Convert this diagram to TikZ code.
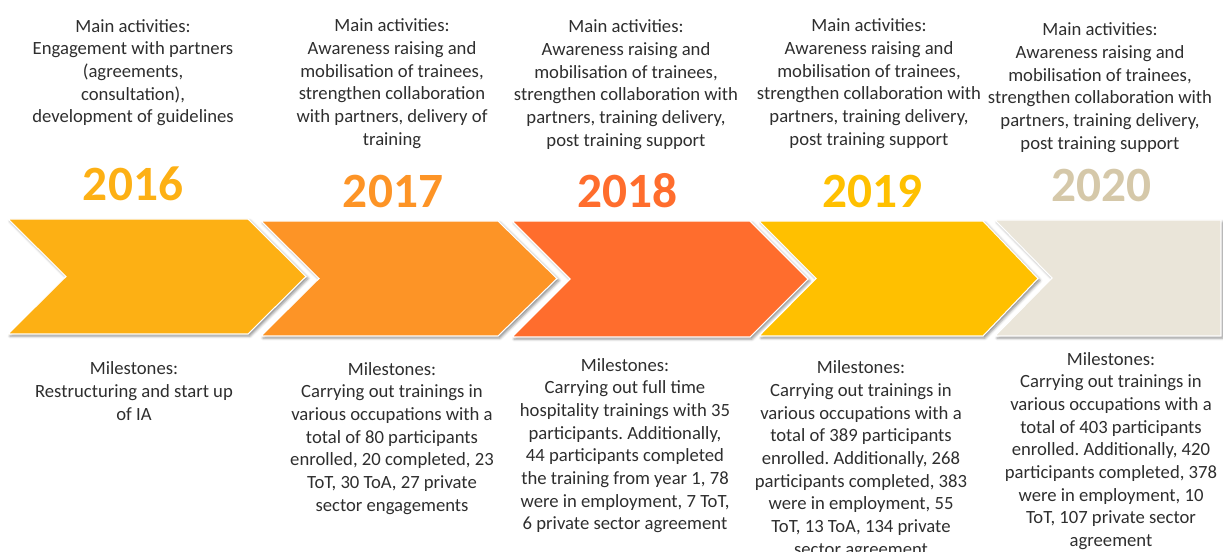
\documentclass[tikz,border=0pt]{standalone}
\usepackage{fontspec}
\setmainfont{Carlito}
\usepackage{xcolor}
\usetikzlibrary{shadows.blur}
\frenchspacing

\definecolor{bar2016}{HTML}{FDB014}
\definecolor{bar2017}{HTML}{FD9426}
\definecolor{bar2018}{HTML}{FF6D2D}
\definecolor{bar2019}{HTML}{FFC000}
\definecolor{bar2020}{HTML}{EAE5D9}
\definecolor{year2020}{HTML}{D5C8A9}
\definecolor{bodytext}{HTML}{2E2E2E}

\begin{document}
\begin{tikzpicture}[x=0.75pt,y=-0.75pt,
		chevron/.style={draw=white,line width=0.8pt,blur shadow={shadow xshift=1.5pt,shadow yshift=-1.5pt,shadow blur radius=2pt,shadow opacity=45}},
		yearlabel/.style={anchor=base,font=\fontsize{37}{40}\selectfont\bfseries},
		infotext/.style={anchor=base,align=center,inner sep=0pt,text=bodytext,font=\fontsize{14}{17}\selectfont}]
				\useasboundingbox (0,0) rectangle (1223,551);
				
				\coordinate (A) at (8,219);
				\coordinate (B) at (261,221);
				\coordinate (C) at (512,221);
				\coordinate (D) at (759,221);
				\coordinate (E) at (995,220);
				
				\fill[bar2016,chevron] (A) -- ++(240,0) -- ++(58,57.5) -- ++(-58,57.5) -- ++(-240,0) -- ++(58,-57.5) -- cycle;
				\fill[bar2017,chevron] (B) -- ++(237,0) -- ++(59,57.5) -- ++(-59,57.5) -- ++(-237,0) -- ++(58,-57.5) -- cycle;
				\fill[bar2018,chevron] (C) -- ++(238,0) -- ++(58,58) -- ++(-58,58) -- ++(-238,0) -- ++(58,-58) -- cycle;
				\fill[bar2019,chevron] (D) -- ++(224,0) -- ++(55,57.5) -- ++(-55,57.5) -- ++(-224,0) -- ++(57,-57.5) -- cycle;
				\fill[bar2020,chevron] (E) -- ++(226,0) -- ++(0,116) -- ++(-226,0) -- ++(57,-58) -- cycle;
				
				\node (y2016) at (133,200) [yearlabel,text=bar2016] {2016};
				\node (y2017) at (393,207) [yearlabel,text=bar2017] {2017};
				\node (y2018) at (627,207) [yearlabel,text=bar2018] {2018};
				\node (y2019) at (872,207) [yearlabel,text=bar2019] {2019};
				\node (y2020) at (1101,201) [yearlabel,text=year2020] {2020};
				
				\node (act2016) at (133,122.7) [infotext] {Main activities:\\Engagement with partners\\(agreements,\\consultation),\\development of guidelines};
				\node (act2017) at (392,145.3) [infotext] {Main activities:\\Awareness raising and\\mobilisation of trainees,\\strengthen collaboration\\with partners, delivery of\\training};
				\node (act2018) at (626,146.3) [infotext] {Main activities:\\Awareness raising and\\mobilisation of trainees,\\strengthen collaboration with\\partners, training delivery,\\post training support};
				\node (act2019) at (869,145.3) [infotext] {Main activities:\\Awareness raising and\\mobilisation of trainees,\\strengthen collaboration with\\partners, training delivery,\\post training support};
				\node (act2020) at (1100,149.3) [infotext] {Main activities:\\Awareness raising and\\mobilisation of trainees,\\strengthen collaboration with\\partners, training delivery,\\post training support};
				
				\node (ms2016) at (134,420.3) [infotext] {Milestones:\\Restructuring and start up\\of IA};
				\node (ms2017) at (392,511) [infotext] {Milestones:\\Carrying out trainings in\\various occupations with a\\total of 80 participants\\enrolled, 20 completed, 23\\ToT, 30 ToA, 27 private\\sector engagements};
				\node (ms2018) at (625,529.7) [infotext] {Milestones:\\Carrying out full time\\hospitality trainings with 35\\participants. Additionally,\\44 participants completed\\the training from year 1, 78\\were in employment, 7 ToT,\\6 private sector agreement};
				\node (ms2019) at (861,555.3) [infotext] {Milestones:\\Carrying out trainings in\\various occupations with a\\total of 389 participants\\enrolled. Additionally, 268\\participants completed, 383\\were in employment, 55\\ToT, 13 ToA, 134 private\\sector agreement};
				\node (ms2020) at (1111,546.5) [infotext] {Milestones:\\Carrying out trainings in\\various occupations with a\\total of 403 participants\\enrolled. Additionally, 420\\participants completed, 378\\were in employment, 10\\ToT, 107 private sector\\agreement};
			\end{tikzpicture}
\end{document}
